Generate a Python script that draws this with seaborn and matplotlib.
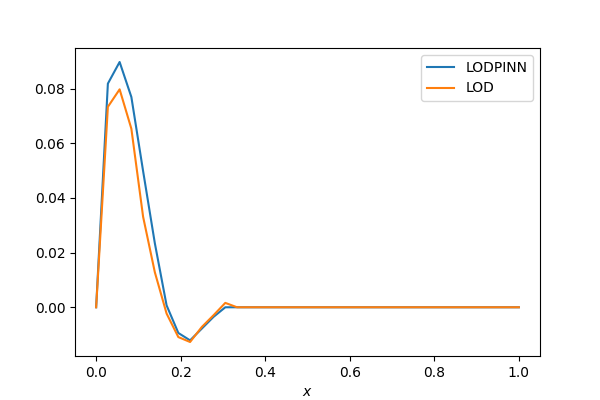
import numpy as np
import pandas as pd
import seaborn as sns
import matplotlib
matplotlib.use("Agg")
import matplotlib.pyplot as plt

# 37 grid points on [0, 1]
x = np.linspace(0, 1, 37)

# values, first 13 points, rest are zero
lodpinn_head = [0.0, 0.0818, 0.0897, 0.0769, 0.0498, 0.0234, 0.0007,
                -0.0094, -0.0121, -0.0078, -0.0035, 0.0000, 0.0]
lod_head = [0.0, 0.0733, 0.0797, 0.0653, 0.0331, 0.0128, -0.0023,
            -0.0109, -0.0127, -0.0072, -0.0029, 0.0016, 0.0]

lodpinn = lodpinn_head + [0.0] * (len(x) - len(lodpinn_head))
lod = lod_head + [0.0] * (len(x) - len(lod_head))

df = pd.DataFrame({"x": x, "LODPINN": lodpinn, "LOD": lod})

fig, ax = plt.subplots(figsize=(6, 4), dpi=100)
sns.lineplot(data=df, x="x", y="LODPINN", color="tab:blue", label="LODPINN", ax=ax)
sns.lineplot(data=df, x="x", y="LOD", color="tab:orange", label="LOD", ax=ax)
ax.set_xlabel("$x$")
ax.set_ylabel("")
ax.legend(loc="upper right")
fig.savefig("out.png", dpi=100)
